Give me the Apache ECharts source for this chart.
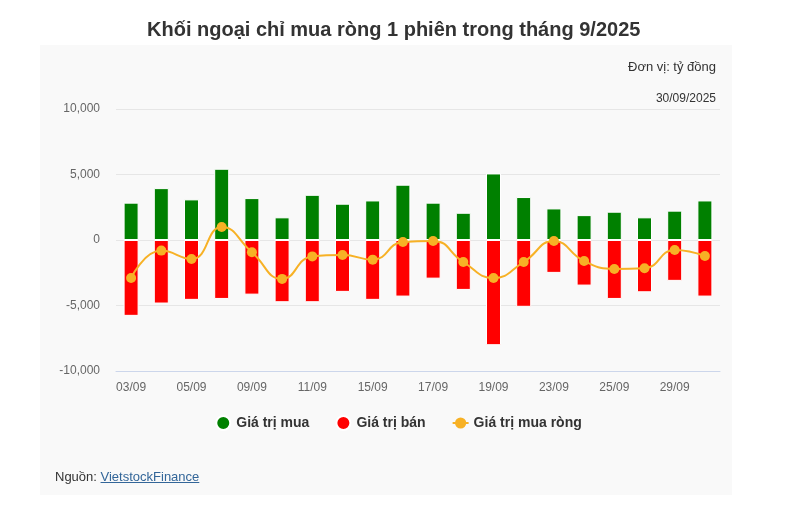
<!DOCTYPE html>
<html>
<head>
<meta charset="utf-8">
<script src="https://cdn.jsdelivr.net/npm/echarts@6/dist/echarts.min.js"></script>
<style>
    html, body { margin: 0; padding: 0; background: #ffffff; }
    #wrap { position: relative; width: 797px; height: 512px; font-family: "Liberation Sans", Arial, sans-serif; }
    #panel { position: absolute; left: 40px; top: 45px; width: 692px; height: 450px; background: #f9f9f9; }
    #chart { position: absolute; left: 0; top: 0; width: 797px; height: 512px; }
    #source { position: absolute; left: 55px; top: 469px; font-size: 13px; color: #333333; }
    #source a { color: #336699; text-decoration: underline; }
</style>
</head>
<body>
<div id="wrap">
    <div id="panel"></div>
    <div id="chart"></div>
    <div id="source">Nguồn: <a href="#">VietstockFinance</a></div>
</div>
<script>
// phiên giao dịch tháng 9/2025
var days = ["03/09","04/09","05/09","08/09","09/09","10/09","11/09","12/09","15/09","16/09",
            "17/09","18/09","19/09","22/09","23/09","24/09","25/09","26/09","29/09","30/09"];
// giá trị mua (tỷ đồng)
var buyValues = [2850, 3960, 3100, 5440, 3200, 1730, 3450, 2770, 3020, 4220,
                 2850, 2080, 5080, 3280, 2410, 1900, 2160, 1730, 2240, 3020];
// giá trị bán (tỷ đồng)
var sellValues = [-5790, -4850, -4570, -4500, -4170, -4750, -4750, -3960, -4570, -4320,
                  -2950, -3810, -8030, -5100, -2510, -3480, -4500, -3990, -3120, -4320];
// giá trị mua ròng (tỷ đồng)
var netValues = [-2900, -810, -1450, 990, -940, -2970, -1250, -1140, -1500, -150,
                 -80, -1680, -2900, -1680, -80, -1600, -2210, -2160, -760, -1220];
var yTicks = [-10000, -5000, 0, 5000, 10000];

var myChart = echarts.init(document.getElementById('chart'));

var option = {
    textStyle: {
        fontFamily: '"Liberation Sans", Arial, sans-serif'
    },
    animation: false,
    title: {
        text: "Khối ngoại chỉ mua ròng 1 phiên trong tháng 9/2025",
        left: 142,
        top: 15,
        textStyle: {
            color: '#333333',
            fontSize: 20,
            fontWeight: 'bold'
        }
    },
    graphic: [
        {
            type: 'text',
            right: 81,
            top: 61,
            style: { text: 'Đơn vị: tỷ đồng', fill: '#333333', font: '13px "Liberation Sans", Arial, sans-serif' }
        },
        {
            type: 'text',
            right: 81,
            top: 93,
            style: { text: '30/09/2025', fill: '#333333', font: '12px "Liberation Sans", Arial, sans-serif' }
        }
    ],
    legend: {
        top: 410,
        left: 'center',
        itemGap: 26,
        itemWidth: 16,
        itemHeight: 14,
        textStyle: {
            color: '#333333',
            fontSize: 14,
            fontWeight: 'bold'
        },
        data: [
            { name: 'Giá trị mua', icon: 'circle' },
            { name: 'Giá trị bán', icon: 'circle' },
            { name: 'Giá trị mua ròng' }
        ]
    },
    grid: {
        left: 116,
        right: 77,
        top: 109,
        bottom: 141
    },
    xAxis: {
        type: 'category',
        data: days,
        axisLine: { onZero: false, lineStyle: { color: '#ccd6eb' } },
        axisTick: { show: false },
        axisLabel: { color: '#666666', fontSize: 12, interval: 1, margin: 11 }
    },
    yAxis: {
        type: 'value',
        min: yTicks[0],
        max: yTicks[yTicks.length - 1],
        interval: 5000,
        axisLine: { show: false },
        axisTick: { show: false },
        axisLabel: {
            color: '#666666',
            fontSize: 12,
            margin: 16,
            formatter: function (v) {
                return v.toLocaleString('en-US');
            }
        },
        splitLine: { lineStyle: { color: '#e6e6e6' } }
    },
    series: [
        {
            name: 'Giá trị mua',
            type: 'bar',
            barWidth: 15,
            barGap: '-100%',
            itemStyle: { color: '#008000', borderColor: '#ffffff', borderWidth: 1 },
            data: buyValues
        },
        {
            name: 'Giá trị bán',
            type: 'bar',
            barWidth: 15,
            itemStyle: { color: '#ff0000', borderColor: '#ffffff', borderWidth: 1 },
            data: sellValues
        },
        {
            name: 'Giá trị mua ròng',
            type: 'line',
            smooth: 0.5,
            symbol: 'circle',
            symbolSize: 10,
            z: 5,
            itemStyle: { color: '#f7b125' },
            lineStyle: { color: '#f7b125', width: 2 },
            data: netValues
        }
    ]
};

myChart.setOption(option);
</script>
</body>
</html>
